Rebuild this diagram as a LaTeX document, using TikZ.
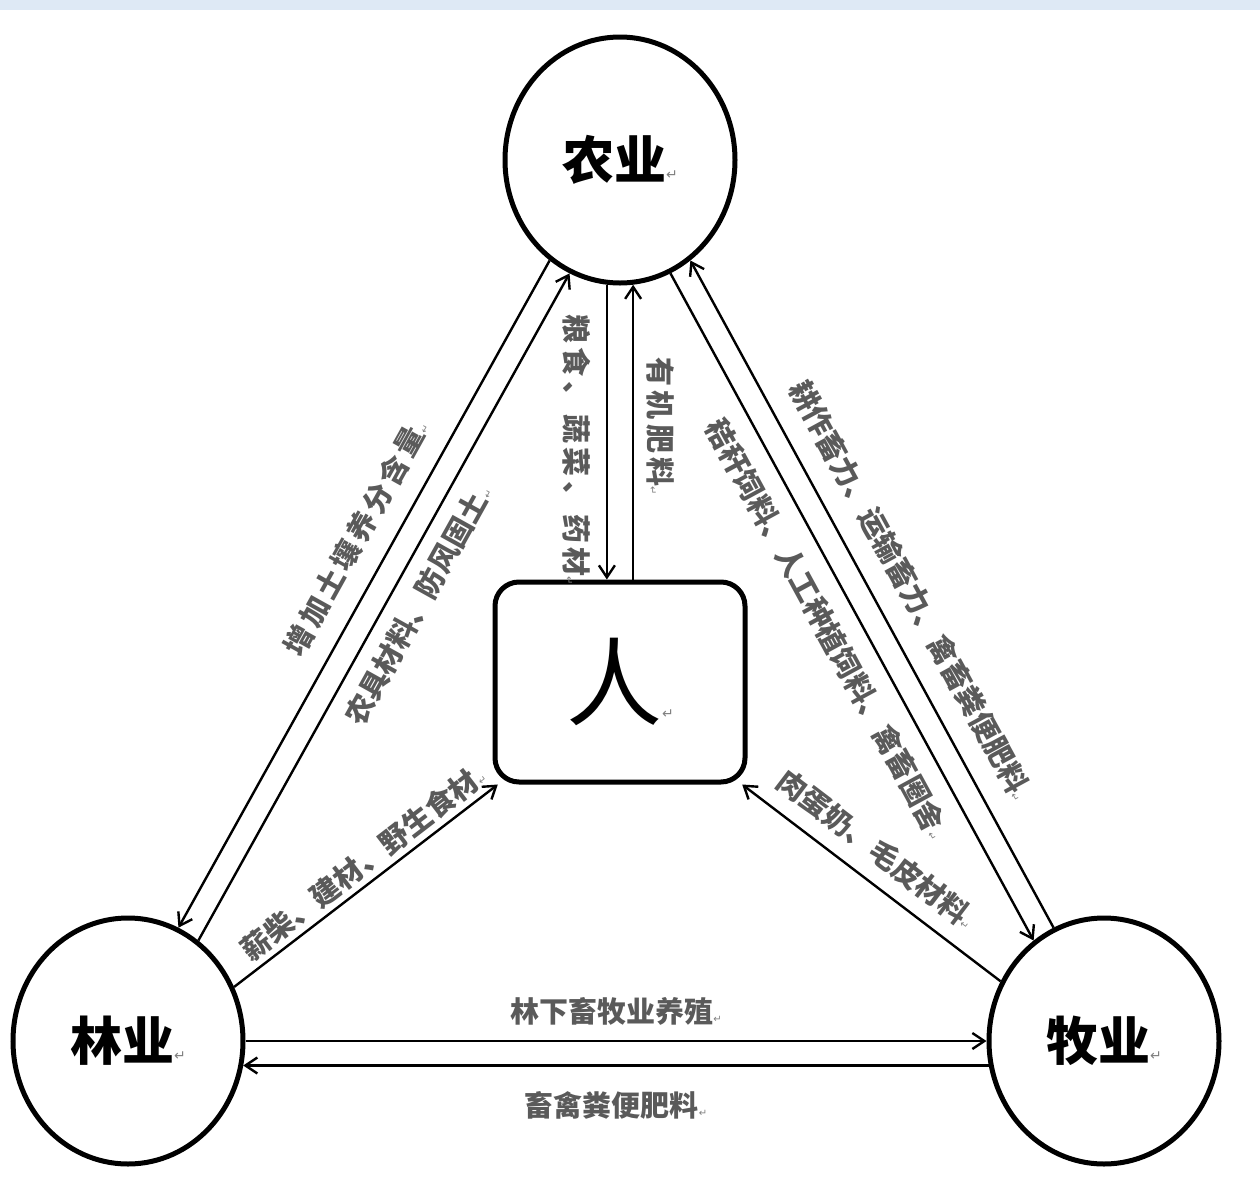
\documentclass[tikz,border=0pt]{standalone}
\usepackage{fontspec}
\usetikzlibrary{arrows.meta,shapes.geometric}
\newfontfamily\zh{Noto Sans CJK SC}
\newfontfamily\sym{DejaVu Sans}
\definecolor{band}{RGB}{222,233,245}
\definecolor{ink}{RGB}{90,90,90}
\newcommand{\ret}[1][5]{{\sym\mdseries\fontsize{#1}{#1}\selectfont\color{gray}↵}}
\newcommand{\spaced}[2]{{\addfontfeature{LetterSpace=#1}#2}}

\begin{document}
\begin{tikzpicture}[x=0.5pt,y=-0.5pt,
	hub/.style={ellipse, draw, line width=2.5pt, minimum width=115pt, minimum height=123pt, font=\zh\bfseries\fontsize{26}{26}\selectfont},
	core/.style={rectangle, draw, line width=2.5pt, rounded corners=12pt, minimum width=125pt, minimum height=100pt, font=\zh\fontsize{48}{48}\selectfont},
	flow/.style={line width=1.2pt, ->, >={Straight Barb[length=6pt,width=8pt]}},
	tag/.style={font=\zh\bfseries\fontsize{14.5}{14.5}\selectfont, text=ink}]
		\useasboundingbox (0,0) rectangle (1260,1201);
		\fill[band] (0,0) rectangle (1260,10);
		% the four parts
		\node[hub] (ny) at (620,160) {农业\ret[7]};
		\node[hub] (ly) at (128,1041) {林业\ret[7]};
		\node[hub] (my) at (1104,1041) {牧业\ret[7]};
		\node[core] (ren) at (620,682) {人\ret[7]};
		% agriculture and people
		\draw[flow] (ny.264) -- (ren.north -| ny.264) node[pos=0.56, rotate=-90, anchor=north, inner sep=7.25pt, tag] {\spaced{15}{粮食、蔬菜、药材}\ret};
		\draw[flow] (ren.north -| ny.276) -- (ny.276) node[pos=0.52, rotate=-90, anchor=south, inner sep=6.25pt, tag] {\spaced{14}{有机肥料}\ret};
		% agriculture and forestry
		\draw[flow] (ny.235) -- (ly.66) node[pos=0.44, sloped, above, inner sep=9.75pt, tag] {\spaced{12}{增加土壤养分含量}\ret};
		\draw[flow] (ly.55) -- (ny.246) node[pos=0.524, sloped, below, inner sep=6.75pt, tag] {农具材料、防风固土\ret};
		% agriculture and husbandry
		\draw[flow] (my.114) -- (ny.305) node[pos=0.48, sloped, above, inner sep=10.25pt, tag] {耕作畜力、运输畜力、禽畜粪便肥料\ret};
		\draw[flow] (ny.294) -- (my.125) node[pos=0.51, sloped, below, inner sep=8.25pt, tag] {秸秆饲料、人工种植饲料、禽畜圈舍\ret};
		% to people
		\draw[flow] (ly.27) -- (ren.220) node[pos=0.535, sloped, above, inner sep=2.5pt, tag] {薪柴、建材、野生食材\ret};
		\draw[flow] (my.150) -- (ren.320) node[pos=0.55, sloped, above, inner sep=7.25pt, tag] {肉蛋奶、毛皮材料\ret};
		% forestry and husbandry
		\draw[flow] (ly.east) -- (my.west) node[midway, above, inner sep=7.25pt, tag] {林下畜牧业养殖\ret};
		\draw[flow] (my.192) -- (ly.-12) node[midway, below, inner sep=12.25pt, tag] {畜禽粪便肥料\ret};
\end{tikzpicture}
\end{document}
